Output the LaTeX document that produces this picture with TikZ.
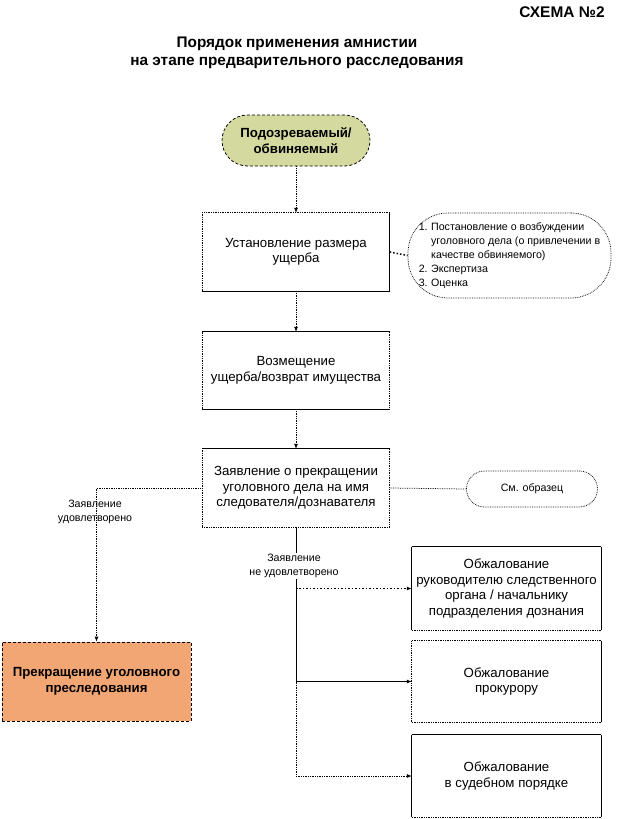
\documentclass[tikz,border=0pt]{standalone}
\usepackage{fontspec}
\setmainfont{Liberation Sans}
\usetikzlibrary{arrows.meta}
\definecolor{ovalfill}{RGB}{212,217,160}
\definecolor{stopfill}{RGB}{242,166,115}
\newcommand\boxedges[5]{%
 \draw[#2] (#1.north west) -- (#1.north east);
 \draw[#3] (#1.north east) -- (#1.south east);
 \draw[#4] (#1.south east) -- (#1.south west);
 \draw[#5] (#1.south west) -- (#1.north west);}
\begin{document}
\begin{tikzpicture}[x=1bp,y=-1bp,
  every node/.style={inner sep=0pt, align=center},
  big/.style={font=\fontsize{13.3}{15.5}\selectfont},
  bigb/.style={font=\bfseries\fontsize{13.3}{15.5}\selectfont},
  small/.style={font=\fontsize{10.7}{14}\selectfont},
  lw/.style={line width=0.75bp},
  eS/.style={lw},
  eD/.style={lw,densely dotted},
  arr/.style={-{Latex[length=5bp,width=4bp]}},
  procbox/.style={big, minimum width=187bp, minimum height=78bp},
  sidebox/.style={big, minimum width=189bp},
  conD/.style={lw, densely dotted},
  conS/.style={lw},
  conT/.style={line width=1.5bp, dotted},
]
\useasboundingbox (0,0) rectangle (624,819);

% headings
\node[font=\bfseries\fontsize{15.5}{18}\selectfont] (schema) at (562,12.5) {СХЕМА №2};
\node[font=\bfseries\fontsize{15.4}{18.5}\selectfont] (title) at (297,53)
  {Порядок применения амнистии\\на этапе предварительного расследования};

% start
\node[bigb, fill=ovalfill, draw, lw, densely dashed, rounded corners=25.5bp,
      minimum width=148bp, minimum height=51bp] (start) at (296,140.5)
  {Подозреваемый/\\обвиняемый};

% main boxes
\node[procbox] (b1) at (296,252) {Установление размера\\ущерба};
\boxedges{b1}{eD}{eS}{eS}{eD}
\node[procbox, minimum height=77bp] (b2) at (296,370.5) {Возмещение\\ущерба/возврат имущества};
\boxedges{b2}{eS}{eD}{eS}{eD}
\node[procbox] (b3) at (296,488) {Заявление о прекращении\\уголовного дела на имя\\следователя/дознавателя};
\boxedges{b3}{eS}{eD}{eD}{eD}

% note
\node[small, draw, lw, densely dotted, rounded corners=40bp,
      minimum width=203bp, minimum height=85bp] (note) at (509.5,255.5)
  {\begin{tabular}{@{}l@{\hspace{3.5bp}}l@{}}
   1. & Постановление о возбуждении\\
      & уголовного дела (о привлечении в\\
      & качестве обвиняемого)\\
   2. & Экспертиза\\
   3. & Оценка
   \end{tabular}};

\node[small, draw, lw, densely dotted, rounded corners=18bp,
      minimum width=131bp, minimum height=36bp] (sample) at (532,489) {См. образец};

% outcome boxes
\node[bigb, fill=stopfill, draw, lw, densely dashed, minimum width=189bp, minimum height=79bp]
  (stop) at (96.5,681.5) {Прекращение уголовного\\преследования};

\node[sidebox, minimum height=83bp] (r1) at (506.5,588.5)
  {Обжалование\\руководителю следственного\\органа / начальнику\\подразделения дознания};
\boxedges{r1}{eS}{eS}{eD}{eS}
\node[sidebox, minimum height=81bp] (r2) at (506.5,681.5) {Обжалование\\прокурору};
\boxedges{r2}{eD}{eS}{eD}{eD}
\node[sidebox, minimum height=82bp] (r3) at (506.5,776) {Обжалование\\в судебном порядке};
\boxedges{r3}{eS}{eS}{eD}{eS}

% connectors
\draw[conD, arr] (start) -- (b1);
\draw[conD, arr] (b1) -- (b2);
\draw[conD, arr] (b2) -- (b3);
\draw[conT] (b1.east) -- (note.west);
\draw[conD] (b3.east) -- (sample.west);
\draw[conD, arr] (b3.west) -| (stop.north);

\coordinate (j1) at (b3.south |- r1.west);
\coordinate (j2) at (b3.south |- r2.west);
\coordinate (j3) at (b3.south |- r3.west);
\draw[conS] (b3.south) -- (j2);
\draw[conD] (j2) -- (j3);
\draw[conT, arr] (j1) -- (r1.west);
\draw[conS, arr] (j2) -- (r2.west);
\draw[conD, arr] (j3) -- (r3.west);

% labels
\node[small] (lyes) at (95,512) {Заявление\\удовлетворено};
\node[small, fill=white, inner sep=1bp] (lno) at (294,566) {Заявление\\не удовлетворено};
\end{tikzpicture}
\end{document}
